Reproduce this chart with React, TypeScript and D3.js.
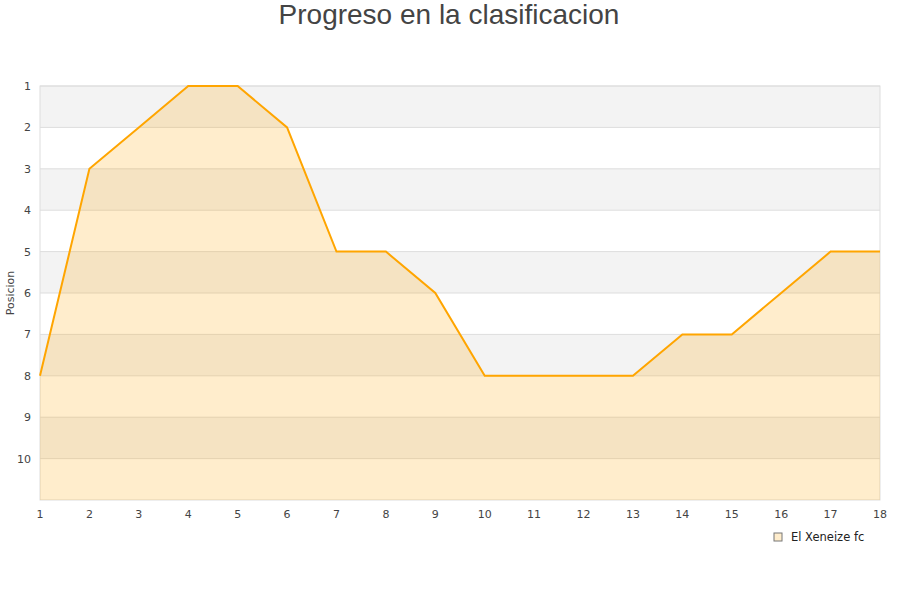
import React from 'react';
import * as d3 from 'd3';

const rounds = [1, 2, 3, 4, 5, 6, 7, 8, 9, 10, 11, 12, 13, 14, 15, 16, 17, 18];
const positions = [8, 3, 2, 1, 1, 2, 5, 5, 6, 8, 8, 8, 8, 7, 7, 6, 5, 5];
const yTicks = [1, 2, 3, 4, 5, 6, 7, 8, 9, 10];
const seriesName = 'El Xeneize fc';

const width = 900;
const height = 600;
const margin = { top: 86, right: 20, bottom: 100, left: 40 };

const App = () => {
  const x = d3.scaleLinear().domain([1, 18]).range([margin.left, width - margin.right]);
  const y = d3.scaleLinear().domain([1, 11]).range([margin.top, height - margin.bottom]);

  const line = d3.line<number>().x((_, i) => x(rounds[i])).y(d => y(d));
  const area = d3.area<number>().x((_, i) => x(rounds[i])).y0(y(11)).y1(d => y(d));

  const bands = d3.range(1, 11);

  return (
    <svg width={width} height={height} style={{ position: 'absolute', left: 0, top: 0, fontFamily: 'DejaVu Sans, sans-serif' }}>
      <rect width={width} height={height} fill="#fff" />
      <text x={449} y={24} textAnchor="middle" fontSize={28} fill="#444" fontFamily="Liberation Sans, Arial, sans-serif">
        Progreso en la clasificacion
      </text>
      {bands.map(b => (
        <rect key={b} x={x(1)} y={y(b)} width={x(18) - x(1)} height={y(b + 1) - y(b)} fill={b % 2 === 1 ? '#f3f3f3' : '#fff'} />
      ))}
      {yTicks.map(t => (
        <line key={t} x1={x(1)} x2={x(18)} y1={y(t)} y2={y(t)} stroke="#ddd" />
      ))}
      <rect x={x(1)} y={y(1)} width={x(18) - x(1)} height={y(11) - y(1)} fill="none" stroke="#ddd" />
      <path d={area(positions) || ''} fill="rgba(255,165,0,0.2)" />
      <path d={line(positions) || ''} fill="none" stroke="#ffa500" strokeWidth={2} />
      {yTicks.map(t => (
        <text key={t} x={31} y={y(t) + 4} textAnchor="end" fontSize={11} fill="#444">{t}</text>
      ))}
      {rounds.map(r => (
        <text key={r} x={x(r)} y={518} textAnchor="middle" fontSize={11} fill="#444">{r}</text>
      ))}
      <text transform={`translate(14,${(y(1) + y(11)) / 2}) rotate(-90)`} textAnchor="middle" fontSize={11} fill="#444">Posicion</text>
      <rect x={774} y={533} width={8} height={8} fill="rgba(255,165,0,0.2)" stroke="#777" strokeWidth={1} />
      <text x={791} y={541} fontSize={11.5} fill="#222">{seriesName}</text>
    </svg>
  );
};

export default App;
